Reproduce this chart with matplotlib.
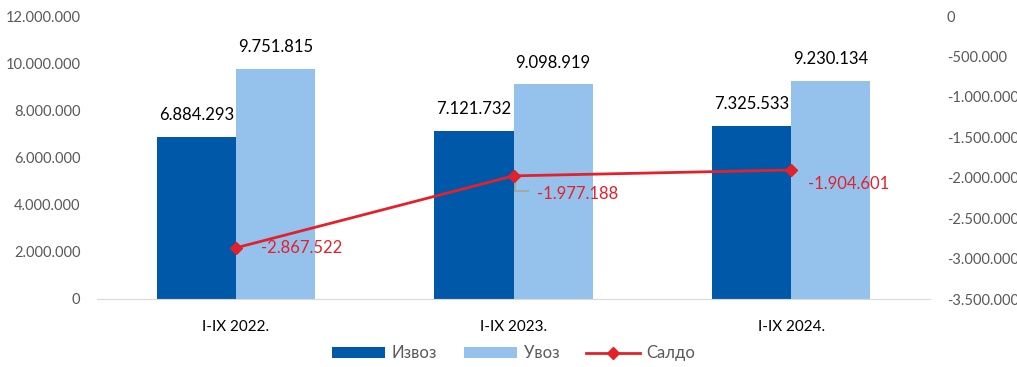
import matplotlib.pyplot as plt
import numpy as np
from matplotlib.ticker import FuncFormatter

plt.rcParams['font.family'] = ['Lato', 'DejaVu Sans']

# Data
periods = ['I-IX 2022.', 'I-IX 2023.', 'I-IX 2024.']
izvoz = [6884293, 7121732, 7325533]
uvoz = [9751815, 9098919, 9230134]
saldo = [-2867522, -1977188, -1904601]

DARK = '#0058A9'
LIGHT = '#95C2EC'
RED = '#E3212B'
GREY_TXT = '#595959'


def dotted(v, pos=None):
    s = f'{abs(int(round(v))):,}'.replace(',', '.')
    return ('-' if v < 0 else '') + s


fig = plt.figure(figsize=(10.17, 3.67), dpi=100)
ax = fig.add_axes([97 / 1017, 1 - 299 / 367, 833 / 1017, 283 / 367])
ax2 = ax.twinx()

x = np.arange(len(periods))
w = 0.285

b1 = ax.bar(x - w / 2, izvoz, w, color=DARK, label='Извоз', zorder=2)
b2 = ax.bar(x + w / 2, uvoz, w, color=LIGHT, label='Увоз', zorder=2)

for rects, vals in ((b1, izvoz), (b2, uvoz)):
    for r, v in zip(rects, vals):
        ax.annotate(dotted(v), xy=(r.get_x() + r.get_width() / 2, v),
                    xytext=(0, 10), textcoords='offset points',
                    ha='center', va='bottom', fontsize=12, color='#000000')

ax.set_xlim(-0.5, len(periods) - 0.5)
ax.set_ylim(0, 12000000)
ax.set_yticks(np.arange(0, 12000001, 2000000))
ax.yaxis.set_major_formatter(FuncFormatter(dotted))
ax.set_xticks(x)
ax.set_xticklabels(periods, fontsize=11, color='#000000')

line, = ax2.plot(x, saldo, color=RED, lw=2, marker='D', markersize=6,
                 label='Салдо', zorder=3)
ax2.set_ylim(-3500000, 0)
ax2.set_yticks(np.arange(-3500000, 1, 500000))
ax2.yaxis.set_major_formatter(FuncFormatter(dotted))

# Saldo value labels
offsets = [(18, 0), (17, -13), (12, -10)]
for xi, v, (dx, dy) in zip(x, saldo, offsets):
    ax2.annotate(dotted(v), xy=(xi, v), xytext=(dx, dy),
                 textcoords='offset points', ha='left', va='center',
                 fontsize=12, color=RED)

# leader line for the middle label (down from the marker, then right)
ax2.plot([x[1] + 0.004, x[1] + 0.004, x[1] + 0.052],
         [saldo[1] - 60000, saldo[1] - 190000, saldo[1] - 190000],
         color='#A6A6A6', lw=1.4, zorder=2)

for a in (ax, ax2):
    for s in a.spines.values():
        s.set_visible(False)
    a.tick_params(length=0, labelsize=10.5, colors=GREY_TXT)
ax.tick_params(axis='x', labelcolor='#000000', labelsize=11, pad=15)
ax.tick_params(axis='y', pad=12)
ax2.tick_params(axis='y', pad=12)
ax.spines['bottom'].set_visible(True)
ax.spines['bottom'].set_color('#D9D9D9')

handles = [b1, b2, line]
fig.legend(handles, [h.get_label() for h in handles], loc='lower center',
           bbox_to_anchor=(0.505, -0.025), ncol=3, frameon=False, fontsize=12,
           handlelength=3.2, handleheight=0.6, columnspacing=1.6,
           handletextpad=0.4, labelcolor=GREY_TXT)

fig.savefig('out.png', dpi=100)
